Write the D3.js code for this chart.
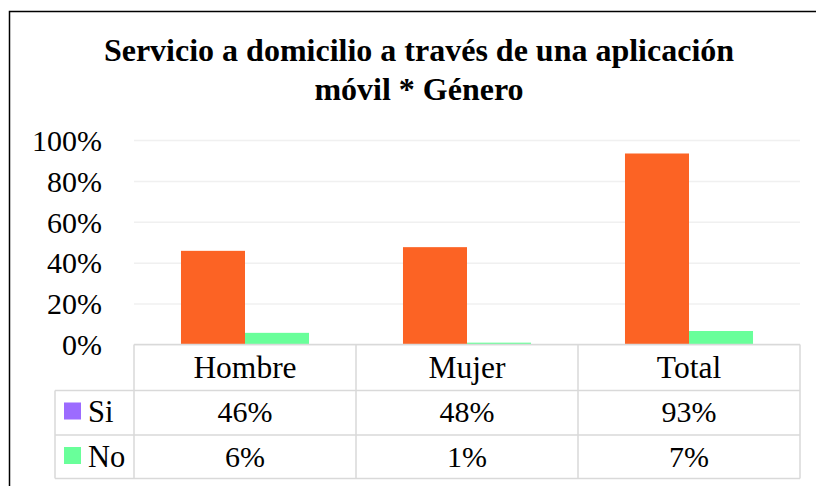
<!DOCTYPE html>
<html>
<head>
<meta charset="utf-8">
<script src="https://cdn.jsdelivr.net/npm/d3@7"></script>
<style>
  body { margin: 0; background: #fff; }
  text { font-family: "Liberation Serif", "Times New Roman", serif; }
</style>
</head>
<body>
<div id="chart"></div>
<script>
var width = 816;
var height = 486;
var margin = { top: 140, left: 134, right: 16, bottom: 141.5 };

var categories = ["Hombre", "Mujer", "Total"];
var series = ["Si", "No"];
var siValues = [45.8, 47.6, 93.4];
var noValues = [5.7, 0.9, 6.6];
var yTicks = [0, 20, 40, 60, 80, 100];
var titleLines = ["Servicio a domicilio a través de una aplicación", "móvil * Género"];

var barColors = { Si: "#fc6324", No: "#69ff9a" };
var legendColors = { Si: "#9c6bff", No: "#69ff9a" };
var valuesBySeries = { Si: siValues, No: noValues };

var svg = d3.select("#chart")
    .append("svg")
    .attr("width", width)
    .attr("height", height);

// outer frame
svg.append("rect")
    .attr("x", 9.5)
    .attr("y", 11.5)
    .attr("width", width + 20)
    .attr("height", height + 20)
    .attr("fill", "none")
    .attr("stroke", "#000")
    .attr("stroke-width", 1.5);

svg.selectAll(".title")
    .data(titleLines)
    .enter()
    .append("text")
    .attr("class", "title")
    .attr("x", 419)
    .attr("y", (d, i) => 61 + i * 39)
    .attr("text-anchor", "middle")
    .attr("font-weight", "bold")
    .attr("font-size", "32px")
    .text(d => d);

var plotW = width - margin.left - margin.right;
var plotH = height - margin.top - margin.bottom;

var g = svg.append("g")
    .attr("transform", "translate(" + margin.left + "," + margin.top + ")");

var xScale = d3.scaleBand()
    .domain(categories)
    .range([0, plotW]);

var xInner = d3.scaleBand()
    .domain(series)
    .range([0, xScale.bandwidth()])
    .paddingOuter(0.734);

var yScale = d3.scaleLinear()
    .domain([0, 100])
    .range([plotH, 0]);

// gridlines
var grid = g.append("g")
    .call(d3.axisLeft(yScale).tickValues(yTicks).tickSize(-plotW).tickFormat(""));
grid.select(".domain").remove();
grid.selectAll("line").attr("stroke", "#f0f0f0").attr("stroke-width", 1.5);

// y labels
var yAxis = g.append("g")
    .attr("transform", "translate(-29,0)")
    .call(d3.axisLeft(yScale).tickValues(yTicks).tickSize(0).tickFormat(d => d + "%"));
yAxis.select(".domain").remove();
yAxis.selectAll("text")
    .attr("font-size", "30px")
    .attr("fill", "#000")
    .attr("dy", "0.34em")
    .style("font-family", "'Liberation Serif', serif");

// bars
var groups = g.selectAll(".grp")
    .data(categories)
    .enter()
    .append("g")
    .attr("transform", d => "translate(" + xScale(d) + ",0)");

groups.selectAll("rect")
    .data((d, i) => series.map(s => ({ s: s, v: valuesBySeries[s][i] })))
    .enter()
    .append("rect")
    .attr("x", d => xInner(d.s))
    .attr("y", d => yScale(d.v))
    .attr("width", xInner.bandwidth())
    .attr("height", d => plotH - yScale(d.v))
    .attr("fill", d => barColors[d.s]);

// data table
var rowH = [46, 44.5, 43.5];
var rowTop = [plotH, plotH + rowH[0], plotH + rowH[0] + rowH[1]];
var legendLeft = 55 - margin.left;
var border = "#d9d9d9";

var table = g.append("g");

// horizontal lines
table.append("line")
    .attr("x1", 0).attr("x2", plotW)
    .attr("y1", rowTop[0]).attr("y2", rowTop[0]);
[rowTop[1], rowTop[2], rowTop[2] + rowH[2]].forEach(y => {
    table.append("line")
        .attr("x1", legendLeft).attr("x2", plotW)
        .attr("y1", y).attr("y2", y);
});
// vertical lines
categories.concat(["end"]).forEach((c, i) => {
    var x = i < categories.length ? xScale(c) : plotW;
    table.append("line")
        .attr("x1", x).attr("x2", x)
        .attr("y1", rowTop[0]).attr("y2", rowTop[2] + rowH[2]);
});
table.append("line")
    .attr("x1", legendLeft).attr("x2", legendLeft)
    .attr("y1", rowTop[1]).attr("y2", rowTop[2] + rowH[2]);
table.selectAll("line").attr("stroke", border).attr("stroke-width", 1.5);

// header text
table.selectAll(".hdr")
    .data(categories)
    .enter()
    .append("text")
    .attr("x", d => xScale(d) + xScale.bandwidth() / 2)
    .attr("y", rowTop[0] + 33.5)
    .attr("text-anchor", "middle")
    .attr("font-size", "31.5px")
    .text(d => d);

// series rows
series.forEach((s, r) => {
    var top = rowTop[r + 1];
    var base = top + 31.5;
    table.append("rect")
        .attr("x", 64 - margin.left)
        .attr("y", top + 12)
        .attr("width", 17)
        .attr("height", 17)
        .attr("fill", legendColors[s]);
    table.append("text")
        .attr("x", 88 - margin.left)
        .attr("y", base)
        .attr("font-size", "30.5px")
        .text(s);
    table.selectAll(".v" + s)
        .data(valuesBySeries[s])
        .enter()
        .append("text")
        .attr("x", (d, i) => xScale(categories[i]) + xScale.bandwidth() / 2)
        .attr("y", base)
        .attr("text-anchor", "middle")
        .attr("font-size", "30px")
        .text(d => Math.round(d) + "%");
});
</script>
</body>
</html>
